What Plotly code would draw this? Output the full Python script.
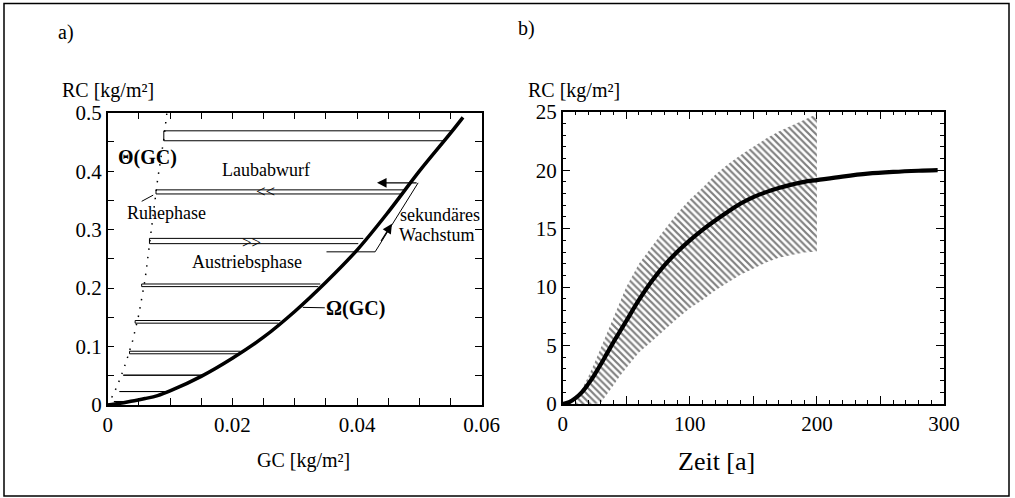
import plotly.graph_objects as go

FONT = "Liberation Serif"
W, H = 1015, 498

# ---------------- Panel a data ----------------
omega_gc = [0, 0.002, 0.004, 0.006, 0.008, 0.010, 0.015, 0.020, 0.025, 0.030,
            0.035, 0.040, 0.045, 0.050, 0.055, 0.057]
omega_rc = [0, 0.003, 0.007, 0.011, 0.016, 0.024, 0.049, 0.080, 0.116, 0.160,
            0.210, 0.265, 0.330, 0.400, 0.465, 0.492]
theta_gc = [0, 0.001, 0.002, 0.003, 0.004, 0.005, 0.006, 0.007, 0.008, 0.009, 0.0095]
theta_rc = [0, 0.02, 0.045, 0.075, 0.11, 0.155, 0.215, 0.30, 0.385, 0.455, 0.5]

loop_rc_top = [0.469, 0.368, 0.285, 0.207, 0.1445, 0.092, 0.051, 0.023, 0.006]
loop_rc_bot = [0.452, 0.361, 0.276, 0.2025, 0.140, 0.0876, 0.051, 0.023, 0.006]
loop_gc_left = [0.0090, 0.00775, 0.0067, 0.00545, 0.0044, 0.0035, 0.0025, 0.0019, 0.0010]
loop_gc_right_top = [0.0554, 0.0478, 0.0410, 0.0341, 0.0277, 0.0213, 0.0153, 0.0095, 0.0040]
loop_gc_right_bot = [0.0541, 0.0470, 0.0402, 0.0338, 0.0274, 0.0210, 0.0153, 0.0095, 0.0040]

sek_gc = [0.0351, 0.0429, 0.0498]
sek_rc = [0.262, 0.262, 0.380]

# ---------------- Panel b data ----------------
zeit = [0, 5, 10, 15, 20, 25, 30, 35, 40, 45, 50, 60, 70, 80, 90, 100, 110, 120,
        130, 140, 150, 160, 170, 180, 190, 200, 220, 240, 260, 280, 295]
rc_mean = [0, 0.15, 0.5, 1.0, 1.7, 2.5, 3.4, 4.35, 5.3, 6.2, 7.1, 8.9, 10.5, 11.85,
           13.0, 14.0, 14.9, 15.7, 16.45, 17.15, 17.7, 18.12, 18.47, 18.76, 19.0,
           19.15, 19.45, 19.7, 19.85, 19.95, 20.0]
band_zeit = [10, 15, 20, 25, 30, 35, 40, 45, 50, 60, 70, 80, 90, 100, 110, 120,
             130, 140, 150, 160, 170, 180, 190, 200]
band_upper = [0.2, 1.2, 2.3, 3.5, 4.8, 6.1, 7.4, 8.8, 10.0, 12.0, 13.5, 14.9, 16.3,
              17.5, 18.5, 19.6, 20.5, 21.3, 22.0, 22.7, 23.3, 23.8, 24.3, 24.8]
band_lower = [0, 0, 0, 0, 0.1, 0.9, 1.6, 2.4, 3.1, 4.4, 5.35, 6.3, 7.3, 8.2, 8.9,
              9.7, 10.4, 11.05, 11.6, 12.1, 12.5, 12.75, 12.95, 13.05]


def px(x):
    return x / W


def py(y):
    return 1 - y / H


fig = go.Figure()

# Panel a traces
for i in range(len(loop_rc_top)):
    fig.add_trace(go.Scatter(
        x=[loop_gc_right_top[i], loop_gc_left[i], loop_gc_left[i], loop_gc_right_bot[i]],
        y=[loop_rc_top[i], loop_rc_top[i], loop_rc_bot[i], loop_rc_bot[i]],
        mode="lines", line=dict(color="black", width=1),
        xaxis="x", yaxis="y", showlegend=False, hoverinfo="skip"))

fig.add_trace(go.Scatter(x=sek_gc, y=sek_rc, mode="lines",
                         line=dict(color="black", width=1),
                         xaxis="x", yaxis="y", showlegend=False))
fig.add_trace(go.Scatter(x=theta_gc, y=theta_rc, mode="lines",
                         line=dict(color="black", width=1.5, dash="1.5px,7px"),
                         xaxis="x", yaxis="y", showlegend=False))
fig.add_trace(go.Scatter(x=omega_gc, y=omega_rc, mode="lines",
                         line=dict(color="black", width=3.5, shape="spline"),
                         xaxis="x", yaxis="y", showlegend=False))

# Panel b traces
fig.add_trace(go.Scatter(
    x=band_zeit + band_zeit[::-1], y=band_upper + band_lower[::-1],
    fill="toself", mode="lines", line=dict(width=0, color="rgba(0,0,0,0)"),
    fillcolor="rgba(0,0,0,0)",
    fillpattern=dict(shape="\\", fgcolor="black", bgcolor="white", size=4.8, solidity=0.45),
    xaxis="x2", yaxis="y2", showlegend=False, hoverinfo="skip"))
fig.add_trace(go.Scatter(x=zeit, y=rc_mean, mode="lines",
                         line=dict(color="black", width=4.2, shape="spline"),
                         xaxis="x2", yaxis="y2", showlegend=False))

axis_common = dict(showline=True, linecolor="black", linewidth=1.5, mirror="allticks",
                   ticks="inside", tickcolor="black", tickwidth=1.2,
                   showgrid=False, zeroline=False, automargin=False,
                   tickfont=dict(family=FONT, size=21, color="black"))

fig.update_layout(
    width=W, height=H, autosize=False, margin=dict(l=0, r=0, t=0, b=0, pad=0),
    paper_bgcolor="white", plot_bgcolor="white",
    font=dict(family=FONT, color="black"), showlegend=False,
    xaxis=dict(domain=[px(107.7), px(481.7)], range=[0, 0.06], dtick=0.02, tick0=0,
               ticklen=7, minor=dict(dtick=0.005, tick0=0, ticklen=7, ticks="inside",
                                     tickcolor="black", tickwidth=1.2),
               anchor="y", **axis_common),
    yaxis=dict(domain=[py(405), py(112.7)], range=[0, 0.5], dtick=0.1, tick0=0,
               ticklen=7, minor=dict(dtick=0.05, tick0=0, ticklen=7, ticks="inside",
                                     tickcolor="black", tickwidth=1.2),
               anchor="x", **axis_common),
    xaxis2=dict(domain=[px(562.7), px(944)], range=[0, 300],
                tickmode="array", tickvals=[0, 50, 100, 150, 200, 250, 300],
                ticktext=["0", "", "100", "", "200", "", "300"],
                ticklen=8, minor=dict(dtick=10, tick0=0, ticklen=4, ticks="inside",
                                      tickcolor="black", tickwidth=1),
                anchor="y2", **axis_common),
    yaxis2=dict(domain=[py(404), py(111.7)], range=[0, 25], dtick=5, tick0=0,
                ticklen=8, minor=dict(dtick=1, tick0=0, ticklen=4, ticks="inside",
                                      tickcolor="black", tickwidth=1),
                anchor="x2", **axis_common),
)

anns = []


def ptext(text, x, y, size, xanchor="center", bold=False):
    if bold:
        text = "<b>" + text + "</b>"
    anns.append(dict(text=text, x=px(x), y=py(y), xref="paper", yref="paper",
                     xanchor=xanchor, yanchor="middle", showarrow=False,
                     font=dict(family=FONT, size=size, color="black")))


ptext("a)", 66, 32, 20)
ptext("b)", 526, 28, 20)
ptext("RC [kg/m²]", 107.5, 90, 20)
ptext("RC [kg/m²]", 574, 90, 20)
ptext("GC [kg/m²]", 303.7, 460, 20)
ptext("Zeit [a]", 716.7, 461.7, 26)
ptext("Θ(GC)", 147.5, 157.3, 20, bold=True)
ptext("Laubabwurf", 265.8, 170, 18)
ptext("Ruhephase", 166.7, 213.3, 18)
ptext("Austriebsphase", 246.7, 261.7, 18)
ptext("sekundäres", 397.5, 215, 18, xanchor="left")
ptext("Wachstum", 396.7, 235, 18, xanchor="left")

# chevrons on loops
anns.append(dict(text="&lt;&lt;", x=0.0253, y=0.366, xref="x", yref="y", showarrow=False,
                 font=dict(family=FONT, size=17, color="black")))
anns.append(dict(text="&gt;&gt;", x=0.0230, y=0.278, xref="x", yref="y", showarrow=False,
                 font=dict(family=FONT, size=17, color="black")))

# Omega label with leader line
anns.append(dict(text="<b>Ω(GC)</b>", x=0.0313, y=0.167, xref="x", yref="y",
                 ax=53, ay=1, showarrow=True, arrowhead=0, arrowwidth=1, arrowcolor="black",
                 font=dict(family=FONT, size=20, color="black")))
# Ruhephase leader line
anns.append(dict(text="", x=0.0073, y=0.359, xref="x", yref="y",
                 ax=-13, ay=7, showarrow=True, arrowhead=0, arrowwidth=1, arrowcolor="black"))
# Laubabwurf arrow
anns.append(dict(text="", x=0.0432, y=0.380, xref="x", yref="y",
                 ax=0.0498, ay=0.380, axref="x", ayref="y",
                 showarrow=True, arrowhead=2, arrowsize=1.6, arrowwidth=1.2,
                 arrowcolor="black"))
# secondary growth arrow
anns.append(dict(text="", x=0.0456, y=0.310, xref="x", yref="y",
                 ax=0.0437, ay=0.278, axref="x", ayref="y",
                 showarrow=True, arrowhead=2, arrowsize=1.6, arrowwidth=1.2,
                 arrowcolor="black"))

fig.update_layout(annotations=anns)

fig.add_shape(type="rect", xref="paper", yref="paper",
              x0=px(4), x1=px(1009), y0=py(496), y1=py(3.5),
              line=dict(color="black", width=1.5))

# page style: remove the default body margin so the figure fills the window
PAGE_CSS = ('data:text/javascript,"></script>'
            '<style>html,body{margin:0;padding:0;overflow:hidden}</style>'
            '<script src="data:text/javascript,//.js')

fig.write_html("out.html", include_mathjax=PAGE_CSS,
               post_script="document.body.style.margin='0';")
